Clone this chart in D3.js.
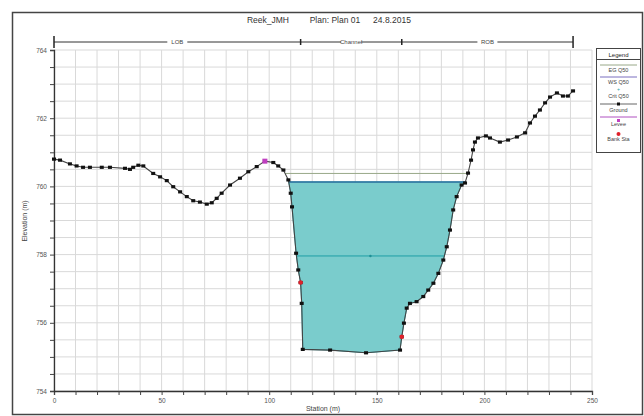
<!DOCTYPE html>
<html><head><meta charset="utf-8">
<script src="https://cdn.jsdelivr.net/npm/d3@7"></script>
<style>body{margin:0;background:#fff}svg{display:block;font-family:"Liberation Sans",Arial,sans-serif}</style>
</head><body><svg id="c" width="644" height="416"></svg>
<script>
const groundStation=[0,2.8,7.4,10.5,13.5,16.7,22.2,26,33,35.3,36.8,39.2,41.5,46.1,49.3,52.4,55.4,58.6,61.7,64.7,67.8,71,73.3,75.6,77.9,81.8,86.4,90.3,94.2,98,101.9,104.2,106.6,108.9,110.0,110.6,112.5,113.5,114.6,115.1,115.6,128.3,145,160.8,161.6,162.6,163.9,165.4,168.5,171.6,173.9,176.3,178.6,180.9,182.5,184,185.5,187.1,189.4,191,192.4,193.8,194.7,195.6,197,200.7,202.6,207.2,211,215.1,218.9,221.2,223.5,225.8,228.2,230.5,233.7,236.5,238.8,241.2];
const groundElev=[760.80,760.77,760.66,760.60,760.56,760.56,760.56,760.56,760.53,760.50,760.56,760.62,760.60,760.38,760.28,760.17,759.99,759.84,759.70,759.58,759.54,759.48,759.52,759.65,759.80,760.04,760.24,760.43,760.58,760.74,760.70,760.60,760.48,760.19,759.80,759.40,758.04,757.55,757.18,756.57,755.22,755.20,755.12,755.20,755.59,755.99,756.43,756.57,756.62,756.77,756.96,757.16,757.45,757.84,758.23,758.72,759.31,759.70,760.04,760.10,760.39,760.77,761.07,761.30,761.42,761.48,761.42,761.30,761.36,761.45,761.57,761.86,762.06,762.24,762.45,762.62,762.74,762.65,762.65,762.80];
const xTicks=[0,50,100,150,200,250];
const yTicks=[754,756,758,760,762,764];
const wsElev=760.13, egElev=760.38, critElev=757.96;
const bankStations=[114.6,161.6];
const bankElev=[757.18,755.59];
const leveeStation=[98];
const leveeElev=[760.74];
const reachLabels=["LOB","Channel","ROB"];
const reachBounds=[0,114.6,161.6,241.2];
const legendLabels=["EG Q50","WS Q50","Crit Q50","Ground","Levee","Bank Sta"];
const titleParts=["Reek_JMH","Plan: Plan 01","24.8.2015"];

const svg=d3.select("#c");
const x=d3.scaleLinear().domain([0,250]).range([54,592]);
const y=d3.scaleLinear().domain([754,764]).range([391,50]);

svg.append("rect").attr("x",12.5).attr("y",12.5).attr("width",630).attr("height",402)
  .attr("fill","none").attr("stroke","#444").attr("stroke-width",1.5);

const tx=[268,335,392];
titleParts.forEach((t,i)=>svg.append("text").attr("x",tx[i]).attr("y",23).attr("text-anchor","middle")
  .attr("font-size",8.5).attr("fill","#333").text(t));

const g=svg.append("g");
g.selectAll(".vg").data(d3.range(0,251,10)).join("line")
  .attr("x1",d=>x(d)).attr("x2",d=>x(d)).attr("y1",y(764)).attr("y2",y(754))
  .attr("stroke","#d9d9d9").attr("stroke-width",1);
g.selectAll(".hg").data(d3.range(754,764.01,0.5)).join("line")
  .attr("x1",x(0)).attr("x2",x(250)).attr("y1",d=>y(d)).attr("y2",d=>y(d))
  .attr("stroke","#d9d9d9").attr("stroke-width",1);

const ax=svg.append("g").attr("transform",`translate(0,${y(754)})`)
  .call(d3.axisBottom(x).tickValues(d3.range(0,251,10)).tickFormat(d=>xTicks.includes(d)?d:"").tickSize(4));
const ay=svg.append("g").attr("transform",`translate(${x(0)},0)`)
  .call(d3.axisLeft(y).tickValues(d3.range(754,764.01,0.5)).tickFormat(d=>yTicks.includes(d)?d:"").tickSize(4));
[ax,ay].forEach(a=>{a.select(".domain").attr("stroke","#333").attr("stroke-width",1.3);
  a.selectAll(".tick line").attr("stroke","#444");
  a.selectAll("text").attr("font-size",6.5).attr("fill","#555").attr("font-family","Liberation Sans, Arial, sans-serif");});

svg.append("text").attr("x",323).attr("y",411).attr("text-anchor","middle").attr("font-size",7).attr("fill","#444").text("Station (m)");
svg.append("text").attr("transform","translate(27,221) rotate(-90)").attr("text-anchor","middle").attr("font-size",7).attr("fill","#444").text("Elevation (m)");

const pts=groundStation.map((s,i)=>[s,groundElev[i]]);
function crossing(level){
  const m=d3.minIndex(groundElev);
  let i=m; while(i>0 && pts[i-1][1]<level) i--;
  const a=pts[i-1], b=pts[i];
  const sl=a[0]+(level-a[1])*(b[0]-a[0])/(b[1]-a[1]);
  let j=m; while(j<pts.length-1 && pts[j+1][1]<level) j++;
  const c=pts[j], d=pts[j+1];
  const sr=c[0]+(level-c[1])*(d[0]-c[0])/(d[1]-c[1]);
  return {sl,sr,inner:pts.slice(i,j+1)};
}
const ws=crossing(wsElev);
const poly=[[ws.sl,wsElev],...ws.inner,[ws.sr,wsElev]];
svg.append("path").attr("d",d3.line().x(d=>x(d[0])).y(d=>y(d[1]))(poly)+"Z")
  .attr("fill","#7acccc").attr("stroke","#3bb3b8").attr("stroke-width",1);
svg.append("line").attr("x1",x(ws.sl)).attr("x2",x(ws.sr)).attr("y1",y(wsElev)).attr("y2",y(wsElev))
  .attr("stroke","#2f6f9f").attr("stroke-width",1.4);
const eg=crossing(egElev);
svg.append("line").attr("x1",x(eg.sl)).attr("x2",x(eg.sr)).attr("y1",y(egElev)).attr("y2",y(egElev))
  .attr("stroke","#98a888").attr("stroke-width",1);
const cr=crossing(critElev);
svg.append("line").attr("x1",x(cr.sl)).attr("x2",x(cr.sr)).attr("y1",y(critElev)).attr("y2",y(critElev))
  .attr("stroke","#1f9fa6").attr("stroke-width",1);
svg.append("circle").attr("cx",x((cr.sl+cr.sr)/2)).attr("cy",y(critElev)).attr("r",1.2).attr("fill","#1f8f96");

svg.append("path").attr("d",d3.line().x(d=>x(d[0])).y(d=>y(d[1]))(pts))
  .attr("fill","none").attr("stroke","#444").attr("stroke-width",1.1);
svg.selectAll(".gp").data(pts).join("rect")
  .attr("x",d=>x(d[0])-2).attr("y",d=>y(d[1])-1.6).attr("width",4).attr("height",3.2).attr("fill","#111");

svg.selectAll(".lv").data(leveeStation).join("rect")
  .attr("x",d=>x(d)-2.5).attr("y",(d,i)=>y(leveeElev[i])-2.5).attr("width",5).attr("height",5).attr("fill","#c040c0");
svg.selectAll(".bs").data(bankStations).join("circle")
  .attr("cx",d=>x(d)).attr("cy",(d,i)=>y(bankElev[i])).attr("r",2.3).attr("fill","#e0202a");

const ry=42;
svg.append("line").attr("x1",x(reachBounds[0])).attr("x2",x(reachBounds[3])).attr("y1",ry).attr("y2",ry)
  .attr("stroke","#333").attr("stroke-width",1);
reachBounds.forEach((b,i)=>{
  const h=(i===0||i===3)?6:3;
  svg.append("line").attr("x1",x(b)).attr("x2",x(b)).attr("y1",ry-h).attr("y2",ry+h).attr("stroke","#222").attr("stroke-width",1.5);
});
reachLabels.forEach((t,i)=>{
  const cx=(x(reachBounds[i])+x(reachBounds[i+1]))/2;
  svg.append("rect").attr("x",cx-10).attr("y",ry-4).attr("width",20).attr("height",8).attr("fill","#fff");
  svg.append("text").attr("x",cx).attr("y",ry+2.3).attr("text-anchor","middle").attr("font-size",6).attr("fill","#444").text(t);
});

const lg=svg.append("g");
lg.append("rect").attr("x",596.5).attr("y",48.5).attr("width",44).attr("height",104).attr("fill","#fff").attr("stroke","#444").attr("stroke-width",1);
lg.append("line").attr("x1",596.5).attr("x2",640.5).attr("y1",59.5).attr("y2",59.5).attr("stroke","#444");
lg.append("text").attr("x",618.5).attr("y",56.5).attr("text-anchor","middle").attr("font-size",6).attr("fill","#222").text("Legend");
const textY=[72,84,98,112,126,141];
legendLabels.forEach((t,i)=>lg.append("text").attr("x",618.5).attr("y",textY[i]).attr("text-anchor","middle")
  .attr("font-size",5.5).attr("fill","#444").text(t));
lg.append("line").attr("x1",600).attr("x2",637).attr("y1",65).attr("y2",65).attr("stroke","#98a888");
lg.append("line").attr("x1",600).attr("x2",637).attr("y1",77).attr("y2",77).attr("stroke","#7a6fc0");
lg.append("text").attr("x",618.5).attr("y",91).attr("text-anchor","middle").attr("font-size",5).attr("fill","#1f9fa6").text("+");
lg.append("line").attr("x1",600).attr("x2",637).attr("y1",104).attr("y2",104).attr("stroke","#666");
lg.append("rect").attr("x",617).attr("y",102.5).attr("width",3).attr("height",3).attr("fill","#111");
lg.append("line").attr("x1",600).attr("x2",637).attr("y1",117).attr("y2",117).attr("stroke","#b050c0");
lg.append("rect").attr("x",617).attr("y",119).attr("width",3).attr("height",3).attr("fill","#c040c0");
lg.append("circle").attr("cx",618.5).attr("cy",134).attr("r",2).attr("fill","#e0202a");
</script></body></html>
